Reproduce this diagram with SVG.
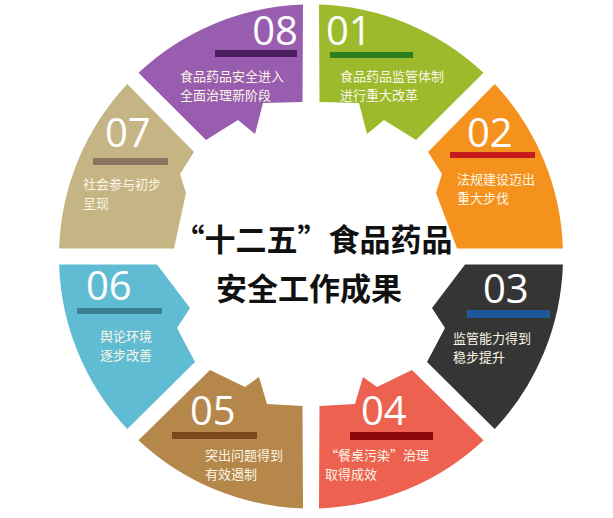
<svg xmlns="http://www.w3.org/2000/svg" width="613" height="518" viewBox="0 0 613 518">
<style>
.num{font-family:"Open Sans","DejaVu Sans",sans-serif;font-size:40px;font-weight:400;fill:#ffffff}
.txt{font-family:"Noto Sans CJK SC","Noto Sans",sans-serif;font-size:13px;fill:#fbf6e6}
.title{font-family:"Noto Sans CJK SC",sans-serif;font-size:31px;font-weight:bold;fill:#111111}
</style>
<rect width="613" height="518" fill="#ffffff"/>
<g id="seg08">
<path d="M138.5,72.8 A252,252 0 0 1 303,4.6 L302.5,102 L263,103 L255,134 L238,120 L206,140 Z" fill="#985dae"/>
<rect x="215" y="50" width="82" height="7" fill="#4b1d5e"/>
<text class="num" x="298" y="45" text-anchor="end">08</text>
<text class="txt" x="180" y="80.5">食品药品安全进入</text>
<text class="txt" x="180" y="99.5">全面治理新阶段</text>
</g>
<g id="seg01">
<path d="M483.5,72.8 A252,252 0 0 0 319,4.6 L319.5,102 L359,103 L367,134 L384,120 L416,140 Z" fill="#9cba2c"/>
<rect x="330" y="52" width="83" height="6" fill="#2e7d1e"/>
<text class="num" x="326" y="45">01</text>
<text class="txt" x="340" y="80.5">食品药品监管体制</text>
<text class="txt" x="340" y="99.5">进行重大改革</text>
</g>
<g id="seg02">
<path d="M562.9,248.5 A252,252 0 0 0 494.7,84 L428,152 L442,174 L436,193 L457,248.5 Z" fill="#f5921e"/>
<rect x="450" y="152" width="85" height="6" fill="#c41c1c"/>
<text class="num" x="467" y="147">02</text>
<text class="txt" x="457" y="184">法规建设迈出</text>
<text class="txt" x="457" y="203">重大步伐</text>
</g>
<g id="seg03">
<path d="M494.7,429 A252,252 0 0 0 562.9,264.5 L465,264.5 L432,308 L445,328 L427,362 Z" fill="#353535"/>
<rect x="467" y="310" width="83" height="8" fill="#1d5897"/>
<text class="num" x="483" y="303">03</text>
<text class="txt" x="453" y="343">监管能力得到</text>
<text class="txt" x="453" y="362">稳步提升</text>
</g>
<g id="seg04">
<path d="M319,508.4 A252,252 0 0 0 483.5,440.2 L412,370 L377,387 L363,377 L355,404 L319.5,406 Z" fill="#ec6150"/>
<rect x="350" y="432" width="83" height="8" fill="#8c0a0a"/>
<text class="num" x="361" y="425">04</text>
<text class="txt" x="325" y="460">“餐桌污染”治理</text>
<text class="txt" x="325" y="479">取得成效</text>
</g>
<g id="seg05">
<path d="M303,508.4 A252,252 0 0 1 138.5,440.2 L210,370 L245,387 L259,377 L267,404 L302.5,406 Z" fill="#b5874a"/>
<rect x="172" y="432" width="85" height="7" fill="#7b4819"/>
<text class="num" x="190" y="425">05</text>
<text class="txt" x="205" y="460">突出问题得到</text>
<text class="txt" x="205" y="479">有效遏制</text>
</g>
<g id="seg06">
<path d="M127.3,429 A252,252 0 0 1 59.1,264.5 L157,264.5 L190,308 L177,328 L195,362 Z" fill="#60bcd3"/>
<rect x="77" y="308" width="85" height="6" fill="#3a7f93"/>
<text class="num" x="86" y="300">06</text>
<text class="txt" x="100" y="341">舆论环境</text>
<text class="txt" x="100" y="360">逐步改善</text>
</g>
<g id="seg07">
<path d="M59.1,248.5 A252,252 0 0 1 127.3,84 L194,152 L180,174 L186,193 L174,248.5 Z" fill="#c5b585"/>
<rect x="93" y="158" width="75" height="7" fill="#8a7660"/>
<text class="num" x="105" y="147">07</text>
<text class="txt" x="83" y="189">社会参与初步</text>
<text class="txt" x="83" y="208">呈现</text>
</g>
<g id="center">
<text class="title" x="313" y="251" text-anchor="middle">“十二五”食品药品</text>
<text class="title" x="309" y="300" text-anchor="middle">安全工作成果</text>
</g>
<g id="connectors"></g>
</svg>
